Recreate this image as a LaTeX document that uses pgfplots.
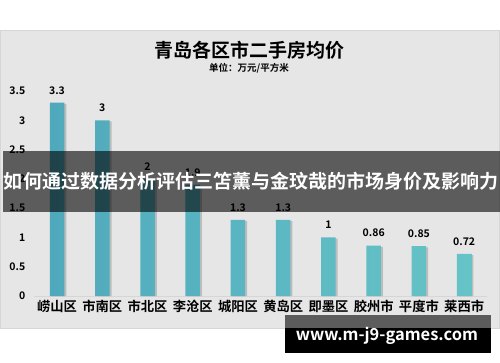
\documentclass[border=0pt]{standalone}
\usepackage{pgfplots}
\pgfplotsset{compat=1.18}
\usepackage{fontspec}
\setmainfont{Noto Sans CJK SC}
\newfontfamily\cjkb{Noto Sans CJK SC Bold}
\definecolor{panel}{HTML}{E6E6E6}
\definecolor{panelline}{HTML}{D6D6D6}
\definecolor{barL}{HTML}{4FA9BC}
\definecolor{barR}{HTML}{66C4C7}
\begin{document}
\begin{tikzpicture}[x=1pt,y=1pt]
\path[use as bounding box] (0,0) rectangle (500,362);
\fill[white] (0,0) rectangle (500,362);
\filldraw[fill=panel,draw=panelline,line width=0.8pt] (0.5,34) rectangle (499,332);
\node[font=\cjkb\fontsize{19}{21}\selectfont] at (249,312) {青岛各区市二手房均价};
\node[font=\cjkb\fontsize{9.5}{11}\selectfont] at (249,294) {单位：万元/平方米};
\begin{axis}[
  at={(34.4pt,66pt)}, anchor=south west,
  scale only axis, width=452.4pt, height=205pt,
  xmin=-0.5, xmax=9.5, ymin=0, ymax=3.5,
  axis x line*=bottom, axis y line=none,
  x axis line style={draw=panelline, line width=0.8pt},
  xtick={0,...,9},
  xticklabels={崂山区,市南区,市北区,李沧区,城阳区,黄岛区,即墨区,胶州市,平度市,莱西市},
  xticklabel style={font=\cjkb\fontsize{13.3}{15}\selectfont, yshift=-1pt},
  major tick length=0pt,
  clip=false,
]
\addplot[ybar, bar width=14.5pt, bar shift=2pt, draw=none, fill=black, opacity=0.18, forget plot]
  coordinates {(0,3.28)(1,2.98)(2,1.98)(3,1.88)(4,1.28)(5,1.28)(6,0.98)(7,0.84)(8,0.83)(9,0.70)};
\addplot[ybar, bar width=14.5pt, bar shift=0pt, draw=none, left color=barL, right color=barR,
  nodes near coords, point meta=explicit symbolic,
  every node near coord/.append style={font=\cjkb\fontsize{10.5}{12}\selectfont, yshift=5pt, text=black}]
  coordinates {(0,3.3)[3.3] (1,3)[3] (2,2)[2] (3,1.9)[1.9] (4,1.3)[1.3] (5,1.3)[1.3] (6,1)[1] (7,0.86)[0.86] (8,0.85)[0.85] (9,0.72)[0.72]};
\end{axis}
% y tick labels
\foreach \v in {0,0.5,1,1.5,2,2.5,3,3.5}{
  \node[anchor=east, font=\cjkb\fontsize{10.5}{12}\selectfont, inner sep=0pt] at (25.5,66+\v*58.571) {\v};
}
% overlay banner
\fill[black, opacity=0.6] (3,150) rectangle (500,211);
\node[text=white, font=\cjkb\fontsize{19}{21}\selectfont] at (251,181) {如何通过数据分析评估三笘薰与金玟哉的市场身价及影响力};
% url box
\fill[black, opacity=0.6] (285,34) rectangle (491,47);
\fill[black] (285,9) rectangle (491,34);
\node[text=white, font=\cjkb\fontsize{16.5}{18}\selectfont] at (387,26) {www.m-j9-games.com};
\end{tikzpicture}
\end{document}
